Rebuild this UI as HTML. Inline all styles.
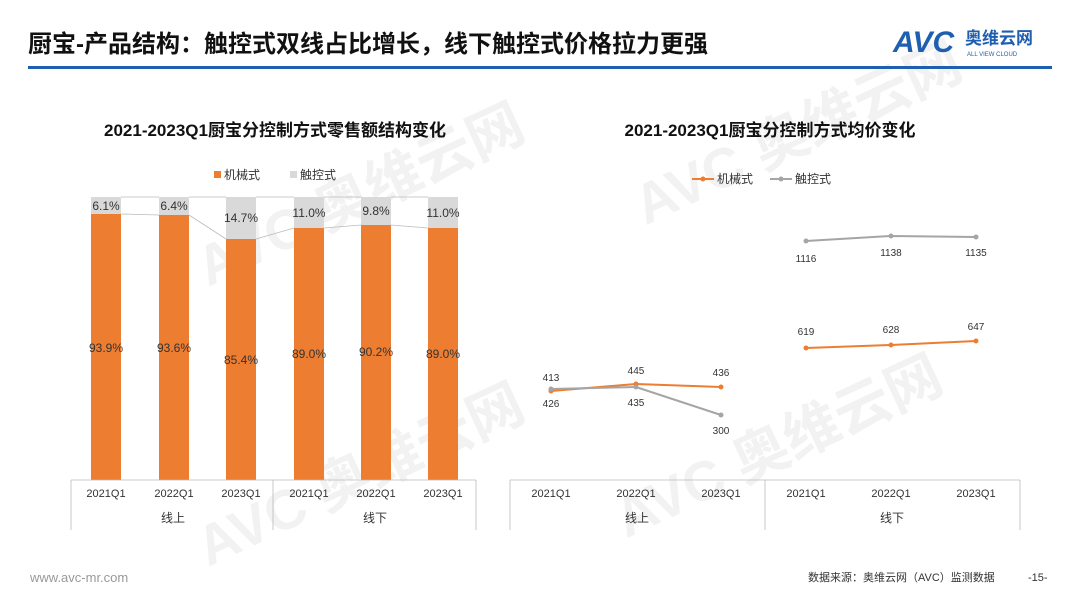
<!DOCTYPE html><html><head><meta charset="utf-8"><style>
body{margin:0;width:1080px;height:608px;background:#fff;overflow:hidden;font-family:"Liberation Sans","Noto Sans CJK SC",sans-serif}
</style></head><body>
<svg width="1080" height="608" xmlns="http://www.w3.org/2000/svg" font-family="Liberation Sans, Noto Sans CJK SC, sans-serif">
<g fill="#f2f2f2" font-weight="bold" font-size="56">
<text x="180" y="240" transform="rotate(-25 300 200)">AVC 奥维云网</text>
<text x="640" y="200" transform="rotate(-25 700 200)">AVC 奥维云网</text>
<text x="180" y="520" transform="rotate(-25 300 480)">AVC 奥维云网</text>
<text x="600" y="500" transform="rotate(-25 700 460)">AVC 奥维云网</text>
</g>
<text x="28" y="52" font-size="24" font-weight="bold" fill="#111">厨宝-产品结构：触控式双线占比增长，线下触控式价格拉力更强</text>
<text x="893" y="52" font-size="30" font-weight="bold" fill="#1f5fb0" font-style="italic">AVC</text>
<text x="965" y="44" font-size="17" font-weight="bold" fill="#1f5fb0">奥维云网</text>
<text x="967" y="56" font-size="6" fill="#1f5fb0">ALL VIEW CLOUD</text>
<rect x="28" y="66" width="1024" height="3" fill="#1f5fb0"/>
<text x="275" y="136" font-size="17" font-weight="bold" text-anchor="middle" fill="#111">2021-2023Q1厨宝分控制方式零售额结构变化</text>
<text x="770" y="136" font-size="17" font-weight="bold" text-anchor="middle" fill="#111">2021-2023Q1厨宝分控制方式均价变化</text>
<rect x="214" y="171" width="7" height="7" fill="#ed7d31"/><text x="224" y="179" font-size="12" fill="#333">机械式</text>
<rect x="290" y="171" width="7" height="7" fill="#d9d9d9"/><text x="300" y="179" font-size="12" fill="#333">触控式</text>
<g font-size="12" fill="#333" text-anchor="middle">
<rect x="91" y="197" width="30" height="17" fill="#d9d9d9"/><rect x="91" y="214" width="30" height="266" fill="#ed7d31"/><text x="106" y="210">6.1%</text><text x="106" y="352">93.9%</text>
<rect x="159" y="197" width="30" height="18" fill="#d9d9d9"/><rect x="159" y="215" width="30" height="265" fill="#ed7d31"/><text x="174" y="210">6.4%</text><text x="174" y="352">93.6%</text>
<rect x="226" y="197" width="30" height="42" fill="#d9d9d9"/><rect x="226" y="239" width="30" height="241" fill="#ed7d31"/><text x="241" y="222">14.7%</text><text x="241" y="364">85.4%</text>
<rect x="294" y="197" width="30" height="31" fill="#d9d9d9"/><rect x="294" y="228" width="30" height="252" fill="#ed7d31"/><text x="309" y="217">11.0%</text><text x="309" y="358">89.0%</text>
<rect x="361" y="197" width="30" height="28" fill="#d9d9d9"/><rect x="361" y="225" width="30" height="255" fill="#ed7d31"/><text x="376" y="215">9.8%</text><text x="376" y="356">90.2%</text>
<rect x="428" y="197" width="30" height="31" fill="#d9d9d9"/><rect x="428" y="228" width="30" height="252" fill="#ed7d31"/><text x="443" y="217">11.0%</text><text x="443" y="358">89.0%</text>
</g>
<g stroke="#bbb" stroke-width="0.8" fill="none">
<path d="M121 197H159M189 197H226M256 197H294M324 197H361M391 197H428"/>
<path d="M121 214L159 215M189 215L226 239M256 239L294 228M324 228L361 225M391 225L428 228"/>
<path d="M71 480H476M71 480V530M273 480V530M476 480V530"/>
<path d="M510 480H1020M510 480V530M765 480V530M1020 480V530"/>
</g>
<g font-size="11" fill="#333" text-anchor="middle">
<text x="106" y="497">2021Q1</text><text x="174" y="497">2022Q1</text><text x="241" y="497">2023Q1</text><text x="309" y="497">2021Q1</text><text x="376" y="497">2022Q1</text><text x="443" y="497">2023Q1</text>
<text x="173" y="522" font-size="12">线上</text><text x="375" y="522" font-size="12">线下</text>
<text x="551" y="497">2021Q1</text><text x="636" y="497">2022Q1</text><text x="721" y="497">2023Q1</text><text x="806" y="497">2021Q1</text><text x="891" y="497">2022Q1</text><text x="976" y="497">2023Q1</text>
<text x="637" y="522" font-size="12">线上</text><text x="892" y="522" font-size="12">线下</text>
</g>
<line x1="692" y1="179" x2="714" y2="179" stroke="#ed7d31" stroke-width="2"/><circle cx="703" cy="179" r="2.5" fill="#ed7d31"/><text x="717" y="183" font-size="12" fill="#333">机械式</text>
<line x1="770" y1="179" x2="792" y2="179" stroke="#a5a5a5" stroke-width="2"/><circle cx="781" cy="179" r="2.5" fill="#a5a5a5"/><text x="795" y="183" font-size="12" fill="#333">触控式</text>
<g stroke-width="2" fill="none">
<polyline points="551,391 636,384 721,387" stroke="#ed7d31"/>
<polyline points="551,389 636,387 721,415" stroke="#a5a5a5"/>
<polyline points="806,348 891,345 976,341" stroke="#ed7d31"/>
<polyline points="806,241 891,236 976,237" stroke="#a5a5a5"/>
</g>
<g fill="#ed7d31"><circle cx="551" cy="391" r="2.5"/><circle cx="636" cy="384" r="2.5"/><circle cx="721" cy="387" r="2.5"/><circle cx="806" cy="348" r="2.5"/><circle cx="891" cy="345" r="2.5"/><circle cx="976" cy="341" r="2.5"/></g>
<g fill="#a5a5a5"><circle cx="551" cy="389" r="2.5"/><circle cx="636" cy="387" r="2.5"/><circle cx="721" cy="415" r="2.5"/><circle cx="806" cy="241" r="2.5"/><circle cx="891" cy="236" r="2.5"/><circle cx="976" cy="237" r="2.5"/></g>
<g font-size="10" fill="#333" text-anchor="middle">
<text x="551" y="381">413</text><text x="551" y="407">426</text><text x="636" y="374">445</text><text x="636" y="406">435</text><text x="721" y="376">436</text><text x="721" y="434">300</text>
<text x="806" y="262">1116</text><text x="891" y="256">1138</text><text x="976" y="256">1135</text>
<text x="806" y="335">619</text><text x="891" y="333">628</text><text x="976" y="330">647</text>
</g>
<text x="30" y="582" font-size="13" fill="#999">www.avc-mr.com</text>
<text x="808" y="581" font-size="11" fill="#333">数据来源：奥维云网（AVC）监测数据</text>
<text x="1028" y="581" font-size="11" fill="#333">-15-</text>
</svg></body></html>
